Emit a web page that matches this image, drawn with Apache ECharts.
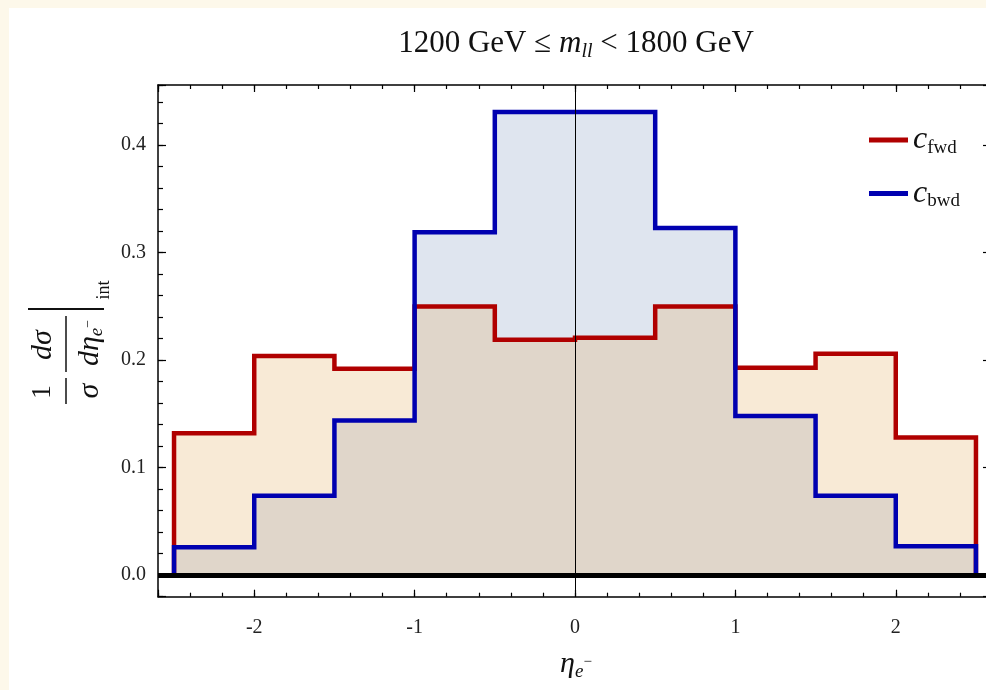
<!DOCTYPE html>
<html>
<head>
<meta charset="utf-8">
<script src="https://cdn.jsdelivr.net/npm/echarts@6/dist/echarts.min.js"></script>
<style>
  html, body { margin: 0; padding: 0; background: #fdf8ea; }
  #chart { width: 986px; height: 690px; }
</style>
</head>
<body>
<div id="chart"></div>
<script>
// bin edges of eta_e- and the normalised values per bin
const edges = [-2.5, -2, -1.5, -1, -0.5, 0, 0.5, 1, 1.5, 2, 2.5];
const fwd = [0.132, 0.204, 0.192, 0.250, 0.219, 0.221, 0.250, 0.193, 0.206, 0.128];
const bwd = [0.026, 0.074, 0.144, 0.319, 0.431, 0.431, 0.323, 0.148, 0.074, 0.027];

const serif = 'Liberation Serif';
const red = '#b00000';
const blue = '#0000b0';

// histogram outline: up from 0 at the first edge, steps, back down at the last edge
function stepPoints(vals) {
  const pts = [[edges[0], 0]];
  vals.forEach((v, i) => {
    pts.push([edges[i], v]);
    pts.push([edges[i + 1], v]);
  });
  pts.push([edges[edges.length - 1], 0]);
  return pts;
}

const chart = echarts.init(document.getElementById('chart'));

const tickLine = { color: '#000', width: 1.2 };
const isMult = (v, step) => Math.abs(v / step - Math.round(v / step)) < 1e-6;

function xAxisDef(pos, minor) {
  return {
    type: 'value', position: pos, min: -2.6, max: 2.6,
    interval: minor ? 0.2 : undefined,
    axisLine: { show: !minor, onZero: false, lineStyle: { color: '#000', width: 1.5 } },
    axisTick: { show: true, inside: true, length: minor ? 4 : 7, lineStyle: tickLine },
    axisLabel: {
      show: pos === 'bottom' && !minor, margin: 21,
      fontFamily: serif, fontSize: 20, color: '#222',
      formatter: v => (isMult(v, 1) && Math.abs(v) < 2.55) ? String(Math.round(v)) : ''
    },
    splitLine: { show: false }
  };
}

function yAxisDef(pos, minor) {
  return {
    type: 'value', position: pos, min: -0.02, max: 0.456,
    interval: minor ? 0.02 : undefined,
    axisLine: { show: !minor, onZero: false, lineStyle: { color: '#000', width: 1.5 } },
    axisTick: { show: true, inside: true, length: minor ? 5 : (pos === 'right' ? 9 : 8), lineStyle: tickLine },
    axisLabel: {
      show: pos === 'left' && !minor, margin: 12,
      fontFamily: serif, fontSize: 20, color: '#222',
      formatter: v => (isMult(v, 0.1) && v > -0.001 && v < 0.45) ? v.toFixed(1) : ''
    },
    splitLine: { show: false }
  };
}

const option = {
  backgroundColor: '#fdf8ea',
  animation: false,
  grid: { left: 158, top: 85, width: 834, height: 511.7, containLabel: false, outerBoundsMode: 'none' },
  xAxis: [xAxisDef('bottom', false), xAxisDef('bottom', true), xAxisDef('top', false), xAxisDef('top', true)],
  yAxis: [yAxisDef('left', false), yAxisDef('left', true), yAxisDef('right', false)],
  legend: {
    data: [{ name: 'fwd', icon: 'rect' }, { name: 'bwd', icon: 'rect' }],
    orient: 'vertical', left: 864, top: 119,
    itemWidth: 39, itemHeight: 5, itemGap: 20, itemStyle: { borderWidth: 0 },
    formatter: name => '{c|c}{s|' + name + '}',
    textStyle: {
      rich: {
        c: { fontFamily: serif, fontStyle: 'italic', fontSize: 32, color: '#111', lineHeight: 34, verticalAlign: 'middle' },
        s: { fontFamily: serif, fontSize: 19, color: '#111', padding: [16, 0, 0, 0] }
      }
    }
  },
  graphic: [
    { type: 'rect', z: -10, silent: true, shape: { x: 9, y: 8, width: 977, height: 682 }, style: { fill: '#fff' } },
    {
      type: 'text', x: 576, y: 44, silent: true,
      style: {
        text: '1200 GeV ≤ {i|m}{s|ll} < 1800 GeV',
        fontFamily: serif, fontSize: 31, fill: '#111', align: 'center', verticalAlign: 'middle',
        rich: {
          i: { fontFamily: serif, fontStyle: 'italic', fontSize: 31, fill: '#111' },
          s: { fontFamily: serif, fontStyle: 'italic', fontSize: 20, fill: '#111', padding: [15, 0, 0, 0] }
        }
      }
    },
    {
      type: 'text', x: 576, y: 664, silent: true,
      style: {
        text: '{i|η}{s|e}{p|−}',
        align: 'center', verticalAlign: 'middle',
        rich: {
          i: { fontFamily: serif, fontStyle: 'italic', fontSize: 30, fill: '#111' },
          s: { fontFamily: serif, fontStyle: 'italic', fontSize: 19, fill: '#111', padding: [16, 0, 0, 0] },
          p: { fontFamily: serif, fontSize: 15, fill: '#111', padding: [0, 0, 4, 0] }
        }
      }
    },
    // y axis label: (1/σ) dσ/dη_e- |_int, written bottom to top
    { type: 'text', x: 43, y: 392, rotation: Math.PI / 2, silent: true,
      style: { text: '1', fontFamily: serif, fontSize: 28, fill: '#111', align: 'center', verticalAlign: 'middle' } },
    { type: 'text', x: 90, y: 391, rotation: Math.PI / 2, silent: true,
      style: { text: 'σ', fontFamily: serif, fontStyle: 'italic', fontSize: 30, fill: '#111', align: 'center', verticalAlign: 'middle' } },
    { type: 'text', x: 43, y: 345, rotation: Math.PI / 2, silent: true,
      style: { text: 'dσ', fontFamily: serif, fontStyle: 'italic', fontSize: 30, fill: '#111', align: 'center', verticalAlign: 'middle' } },
    { type: 'text', x: 90, y: 343, rotation: Math.PI / 2, silent: true,
      style: {
        text: '{i|dη}{s|e}{p|−}', align: 'center', verticalAlign: 'middle',
        rich: {
          i: { fontFamily: serif, fontStyle: 'italic', fontSize: 30, fill: '#111' },
          s: { fontFamily: serif, fontStyle: 'italic', fontSize: 19, fill: '#111', padding: [14, 0, 0, 0] },
          p: { fontFamily: serif, fontSize: 14, fill: '#111', padding: [0, 0, 4, 0] }
        }
      } },
    { type: 'text', x: 104, y: 290, rotation: Math.PI / 2, silent: true,
      style: { text: 'int', fontFamily: serif, fontSize: 18, fill: '#111', align: 'center', verticalAlign: 'middle' } },
    { type: 'line', silent: true, shape: { x1: 66, y1: 378, x2: 66, y2: 404 }, style: { stroke: '#111', lineWidth: 1.5 } },
    { type: 'line', silent: true, shape: { x1: 66, y1: 316, x2: 66, y2: 372 }, style: { stroke: '#111', lineWidth: 1.5 } },
    { type: 'line', silent: true, shape: { x1: 28, y1: 309, x2: 104, y2: 309 }, style: { stroke: '#111', lineWidth: 2 } }
  ],
  series: [
    {
      name: 'bwdArea', type: 'line', data: stepPoints(bwd), showSymbol: false, silent: true,
      lineStyle: { width: 0, opacity: 0 }, areaStyle: { color: 'rgba(127,151,191,0.25)', opacity: 1 }, z: 1
    },
    {
      name: 'fwdArea', type: 'line', data: stepPoints(fwd), showSymbol: false, silent: true,
      lineStyle: { width: 0, opacity: 0 }, areaStyle: { color: 'rgba(227,171,91,0.25)', opacity: 1 }, z: 1
    },
    {
      name: 'fwd', type: 'line', data: stepPoints(fwd), showSymbol: false, silent: true,
      color: red, lineStyle: { color: red, width: 4.5, join: 'miter' }, z: 3
    },
    {
      name: 'bwd', type: 'line', data: stepPoints(bwd), showSymbol: false, silent: true,
      color: blue, lineStyle: { color: blue, width: 4.5, join: 'miter' }, z: 4,
      markLine: {
        silent: true, symbol: 'none', label: { show: false }, animation: false,
        data: [
          { yAxis: 0, lineStyle: { color: '#000', width: 5, type: 'solid' } },
          { xAxis: 0, lineStyle: { color: '#000', width: 1, type: 'solid' } }
        ]
      }
    }
  ]
};

chart.setOption(option);
</script>
</body>
</html>
